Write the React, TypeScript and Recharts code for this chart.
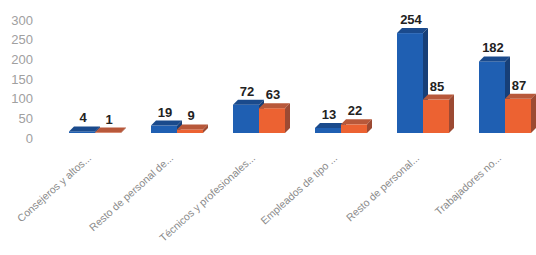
import { BarChart, Bar, XAxis, YAxis, LabelList } from "recharts"

const categories = [
  "Consejeros y altos...",
  "Resto de personal de...",
  "Técnicos y profesionales...",
  "Empleados de tipo ...",
  "Resto de personal...",
  "Trabajadores no...",
]
const seriesA = [4, 19, 72, 13, 254, 182]
const seriesB = [1, 9, 63, 22, 85, 87]
const yTicks = [0, 50, 100, 150, 200, 250, 300]

const data = categories.map((name, i) => ({ name, a: seriesA[i], b: seriesB[i] }))

const DEPTH = 5
const LIFT = 5

function make3D(front: string, top: string, side: string) {
  return (props: any) => {
    const { x, y, width, height } = props
    const fy = y - LIFT
    const h = Math.max(height, 0)
    return (
      <g>
        <rect x={x} y={fy} width={width} height={h} fill={front} />
        <polygon
          points={`${x},${fy} ${x + DEPTH},${fy - DEPTH} ${x + width + DEPTH},${fy - DEPTH} ${x + width},${fy}`}
          fill={top}
        />
        <polygon
          points={`${x + width},${fy} ${x + width + DEPTH},${fy - DEPTH} ${x + width + DEPTH},${fy + h - DEPTH} ${x + width},${fy + h}`}
          fill={side}
        />
      </g>
    )
  }
}

const blueBar = make3D("#1f5fb2", "#1a4a8c", "#173f78")
const orangeBar = make3D("#ec6232", "#b8583a", "#9c4a33")

const valueLabel = (props: any) => {
  const { x, y, width, value } = props
  return (
    <text
      x={x + width / 2 + 1}
      y={y - LIFT - 9}
      textAnchor="middle"
      fontSize={13}
      fontWeight="bold"
      fill="#222"
      fontFamily="Liberation Sans, Arial, sans-serif"
    >
      {value}
    </text>
  )
}

const CategoryTick = (props: any) => {
  const { x, y, payload } = props
  return (
    <g transform={`translate(${x - 3},${y + 13})`}>
      <text
        x={0}
        y={0}
        textAnchor="end"
        transform="rotate(-42)"
        fontSize={10.5}
        fill="#8a8a8a"
        fontFamily="Liberation Sans, Arial, sans-serif"
      >
        {payload.value}
      </text>
    </g>
  )
}

export default function App() {
  return (
    <div
      style={{
        position: "fixed",
        left: 0,
        top: 0,
        width: 536,
        height: 255,
        overflow: "hidden",
        background: "#fff",
      }}
    >
      <BarChart
        width={560}
        height={255}
        data={data}
        margin={{ top: 20, right: 14, bottom: 0, left: 0 }}
        barSize={26}
        barGap={0}
      >
        <XAxis
          dataKey="name"
          axisLine={false}
          tickLine={false}
          interval={0}
          height={117}
          tick={<CategoryTick />}
        />
        <YAxis
          domain={[0, 300]}
          ticks={yTicks}
          interval={0}
          width={54}
          axisLine={false}
          tickLine={false}
          tickSize={0}
          tickMargin={21}
          tick={{ fontSize: 13, fill: "#a0a0a0", fontFamily: "Liberation Sans, Arial, sans-serif" }}
        />
        <Bar dataKey="a" shape={blueBar} isAnimationActive={false}>
          <LabelList dataKey="a" content={valueLabel} />
        </Bar>
        <Bar dataKey="b" shape={orangeBar} isAnimationActive={false}>
          <LabelList dataKey="b" content={valueLabel} />
        </Bar>
      </BarChart>
    </div>
  )
}
